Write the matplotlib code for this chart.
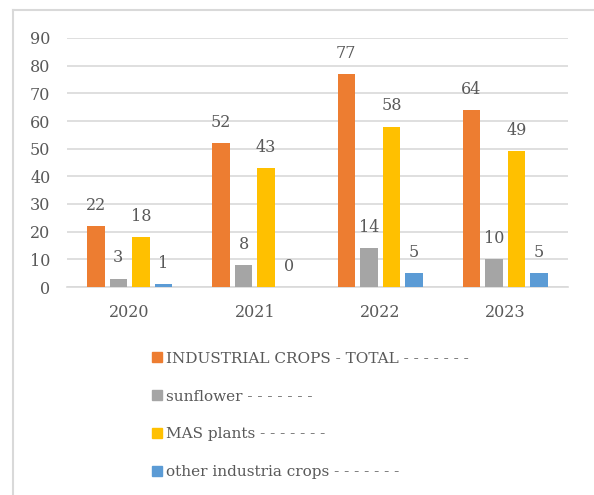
import numpy as np
import matplotlib.pyplot as plt
from matplotlib.lines import Line2D
from matplotlib.patches import Patch

years = ["2020", "2021", "2022", "2023"]
series_names = ["INDUSTRIAL CROPS - TOTAL - - - - - - -",
                "sunflower - - - - - - -",
                "MAS plants - - - - - - -",
                "other industria crops - - - - - - -"]
industrial_total = [22, 52, 77, 64]
sunflower = [3, 8, 14, 10]
mas_plants = [18, 43, 58, 49]
other_crops = [1, 0, 5, 5]
colors = ["#ED7D31", "#A5A5A5", "#FFC000", "#5B9BD5"]

txt = "#595959"
plt.rcParams['font.family'] = ['DejaVu Serif']
plt.rcParams['font.size'] = 11

W, H = 594, 495
fig = plt.figure(figsize=(W / 100, H / 100), dpi=100)

# chart border: only the left and top edges fall inside the image
fig.add_artist(Line2D([12.5 / W, 12.5 / W], [0, 1 - 9.5 / H], color="#d9d9d9",
                      linewidth=1.5, transform=fig.transFigure))
fig.add_artist(Line2D([12.5 / W, 1], [1 - 9.5 / H, 1 - 9.5 / H], color="#d9d9d9",
                      linewidth=1.5, transform=fig.transFigure))

ax = fig.add_axes([67 / W, (H - 287) / H, (568 - 67) / W, (287 - 38) / H])

x = np.arange(len(years))
width = 0.14
step = 0.18
all_vals = [industrial_total, sunflower, mas_plants, other_crops]
for i, (vals, c) in enumerate(zip(all_vals, colors)):
    pos = x + (i - 1.5) * step
    ax.bar(pos, vals, width, color=c, zorder=3, label=series_names[i])
    for p, v in zip(pos, vals):
        ax.annotate(str(v), (p, v), xytext=(0, 15), textcoords="offset points",
                    ha="center", va="center", color=txt, fontsize=11.5)

ax.set_xlim(-0.5, 3.5)
ax.set_ylim(0, 90)
ax.set_yticks(range(0, 91, 10))
ax.set_xticks(x)
ax.set_xticklabels(years)
ax.grid(axis="y", color="#d9d9d9", linewidth=1.2, zorder=0)
for s in ["top", "right", "left"]:
    ax.spines[s].set_visible(False)
ax.spines["bottom"].set_color("#d9d9d9")
ax.spines["bottom"].set_linewidth(1.2)
ax.tick_params(length=0, colors=txt, labelsize=11.5)
ax.tick_params(axis="y", pad=12)
ax.tick_params(axis="x", pad=12)

handles = [Patch(color=c) for c in colors]
fig.legend(handles, series_names, loc="upper left",
           bbox_to_anchor=(138 / W, 1 - 338 / H), frameon=False,
           handlelength=0.65, handleheight=0.65, handletextpad=0.3,
           labelspacing=1.56, fontsize=11, labelcolor=txt)

fig.savefig("out.png", dpi=100)
